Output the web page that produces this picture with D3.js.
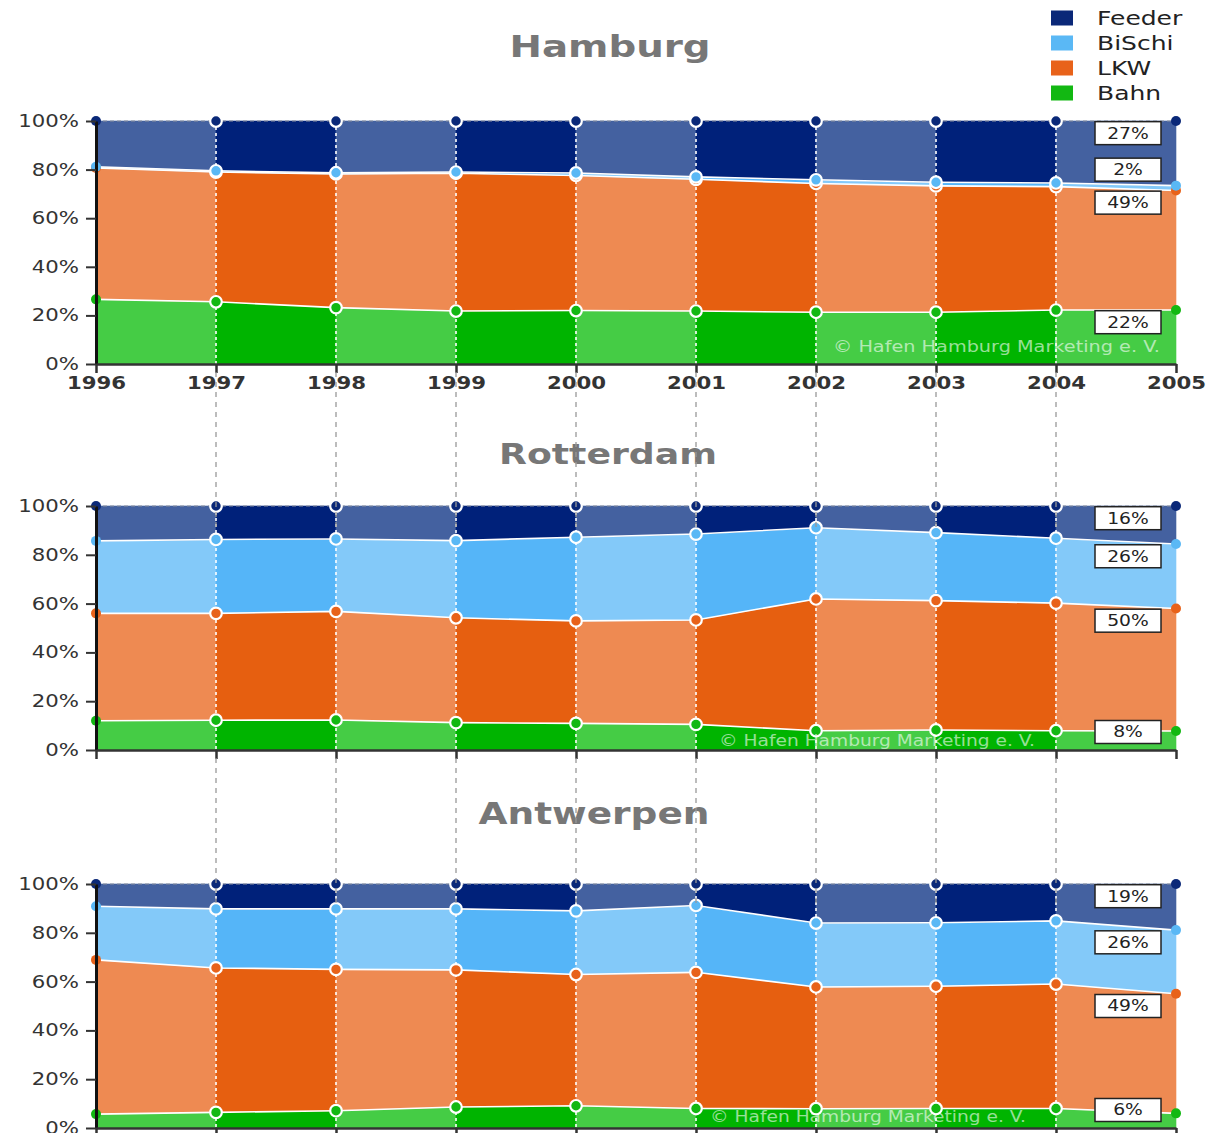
<!DOCTYPE html>
<html>
<head>
<meta charset="utf-8">
<script src="https://cdn.jsdelivr.net/npm/d3@7"></script>
<style>
body { margin: 0; background: #fff; }
text { font-family: "DejaVu Sans", Verdana, sans-serif; }
</style>
</head>
<body>
<div id="vizArea"></div>
<script>
// data: share of hinterland traffic per mode, in percent
var years = [1996, 1997, 1998, 1999, 2000, 2001, 2002, 2003, 2004, 2005];
var modes = ["Bahn", "LKW", "BiSchi", "Feeder"];
var legendModes = ["Feeder", "BiSchi", "LKW", "Bahn"];
var yTicks = [0, 20, 40, 60, 80, 100];

var hamburgBahn   = [26.6, 25.6, 23.2, 21.8, 22.0, 21.8, 21.3, 21.3, 22.2, 22.2];
var hamburgLKW    = [54.1, 53.4, 55.0, 56.7, 55.6, 54.2, 53.0, 52.0, 50.8, 49.2];
var hamburgBiSchi = [0.5, 0.5, 0.5, 0.5, 1.0, 1.0, 1.5, 1.5, 1.5, 2.0];
var hamburgFeeder = [18.8, 20.5, 21.3, 21.0, 21.4, 23.0, 24.2, 25.2, 25.5, 26.6];

var rotterdamBahn   = [12.0, 12.2, 12.3, 11.2, 10.9, 10.5, 7.9, 8.2, 7.9, 7.8];
var rotterdamLKW    = [44.0, 43.8, 44.5, 43.0, 42.0, 42.8, 54.0, 53.0, 52.3, 50.2];
var rotterdamBiSchi = [29.7, 30.3, 29.7, 31.6, 34.3, 35.2, 29.2, 27.9, 26.6, 26.4];
var rotterdamFeeder = [14.3, 13.7, 13.5, 14.2, 12.8, 11.5, 8.9, 10.9, 13.2, 15.6];

var antwerpenBahn   = [5.7, 6.4, 7.1, 8.6, 9.1, 8.0, 7.9, 8.0, 8.0, 6.0];
var antwerpenLKW    = [63.2, 59.2, 57.9, 56.2, 53.8, 55.8, 49.9, 50.1, 51.0, 49.0];
var antwerpenBiSchi = [22.0, 24.2, 24.8, 25.0, 26.1, 27.4, 26.2, 26.0, 25.9, 26.1];
var antwerpenFeeder = [9.1, 10.2, 10.2, 10.2, 11.0, 8.8, 16.0, 15.9, 15.1, 18.9];

var colLight = { Feeder: "#4461a0", BiSchi: "#83c9f9", LKW: "#ee8a52", Bahn: "#45cc45" };
var colDark  = { Feeder: "#00217a", BiSchi: "#55b5f8", LKW: "#e65f10", Bahn: "#00b400" };
var colDot   = { Feeder: "#0a2878", BiSchi: "#5ab8f5", LKW: "#e8621a", Bahn: "#12b812" };

var SX = 1.25; // the picture has horizontally stretched lettering

var charts = [
  { name: "Hamburg", top: 121, bottom: 364, titleY: 57, titleX: 610, titleSize: 31, years: true,
    cols: [hamburgBahn, hamburgLKW, hamburgBiSchi, hamburgFeeder], copy: [833, 352, 327] },
  { name: "Rotterdam", top: 506, bottom: 750, titleY: 464, titleX: 608, titleSize: 29, years: false,
    cols: [rotterdamBahn, rotterdamLKW, rotterdamBiSchi, rotterdamFeeder], copy: [719, 746, 316] },
  { name: "Antwerpen", top: 884, bottom: 1128, titleY: 824, titleX: 594, titleSize: 30, years: false,
    cols: [antwerpenBahn, antwerpenLKW, antwerpenBiSchi, antwerpenFeeder], copy: [710, 1122, 316] }
];

var W = 1213, H = 1133;
var svg = d3.select("#vizArea").append("svg")
  .attr("width", W)
  .attr("height", H);

var x = d3.scaleLinear().domain([1996, 2005]).range([96, 1176]);

var lowerLayer = svg.append("g");
var connLayer = svg.append("g");

charts.forEach(function (c) {
  var g = lowerLayer.append("g");
  var y = d3.scaleLinear().domain([0, 100]).range([c.bottom, c.top]);

  var rows = years.map(function (yr, i) {
    var r = { year: yr };
    modes.forEach(function (m, k) { r[m] = c.cols[k][i]; });
    return r;
  });
  var stacked = d3.stack().keys(modes)(rows);

  // title
  g.append("text")
    .attr("transform", "translate(" + c.titleX + "," + c.titleY + ") scale(" + SX + ",1)")
    .attr("text-anchor", "middle")
    .attr("font-weight", "bold")
    .attr("font-size", c.titleSize)
    .attr("fill", "#777")
    .text(c.name);

  var area = d3.area()
    .x(function (d) { return x(d.data.year); })
    .y0(function (d) { return y(d[0]); })
    .y1(function (d) { return y(d[1]); });

  // alternating shaded segments
  stacked.forEach(function (layer) {
    for (var i = 0; i < years.length - 1; i++) {
      g.append("path")
        .attr("d", area(layer.slice(i, i + 2)))
        .attr("fill", i % 2 == 0 ? colLight[layer.key] : colDark[layer.key])
        .attr("stroke", i % 2 == 0 ? colLight[layer.key] : colDark[layer.key])
        .attr("stroke-width", 0.6);
    }
  });

  // white boundaries between layers
  var line = d3.line()
    .x(function (d) { return x(d.data.year); })
    .y(function (d) { return y(d[1]); });
  stacked.slice(0, 3).forEach(function (layer) {
    g.append("path")
      .attr("d", line(layer))
      .attr("fill", "none")
      .attr("stroke", "#fff")
      .attr("stroke-width", 1.6);
  });

  // dashed top edge
  g.append("line")
    .attr("x1", x(1996)).attr("x2", x(2005))
    .attr("y1", y(100)).attr("y2", y(100))
    .attr("stroke", "#8a8fa0").attr("stroke-width", 1.2)
    .attr("stroke-dasharray", "4,3");

  // white dotted year lines
  g.selectAll(".vline").data(years.slice(1, -1)).enter().append("line")
    .attr("x1", function (d) { return x(d); })
    .attr("x2", function (d) { return x(d); })
    .attr("y1", y(100)).attr("y2", y(0))
    .attr("stroke", "rgba(255,255,255,0.8)")
    .attr("stroke-width", 2)
    .attr("stroke-dasharray", "3,3");

  // points
  stacked.forEach(function (layer) {
    g.selectAll(".dot-" + layer.key).data(layer).enter().append("circle")
      .attr("cx", function (d) { return x(d.data.year); })
      .attr("cy", function (d) { return y(d[1]); })
      .attr("r", function (d, i) { return (i == 0 || i == years.length - 1) ? 5 : 5.8; })
      .attr("fill", colDot[layer.key])
      .attr("stroke", function (d, i) { return (i == 0 || i == years.length - 1) ? "none" : "#fff"; })
      .attr("stroke-width", 2.2);
  });

  // copyright
  g.append("text")
    .attr("x", c.copy[0]).attr("y", c.copy[1])
    .attr("textLength", c.copy[2])
    .attr("lengthAdjust", "spacingAndGlyphs")
    .attr("font-size", 15)
    .attr("fill", "rgba(255,255,255,0.6)")
    .text("\u00a9 Hafen Hamburg Marketing e. V.");

  // value boxes for 2005
  var last = years.length - 1;
  var prev = null;
  stacked.forEach(function (layer) {
    var top = layer[last][1];
    var py = y(top - 5);
    if (prev == null) py = Math.min(py, c.bottom - 18);
    else py = Math.min(py, prev - 33);
    prev = py;
    var v = layer[last][1] - layer[last][0];
    var bx = g.append("g").attr("transform", "translate(1128," + py + ")");
    bx.append("rect")
      .attr("x", -33).attr("y", -11.5)
      .attr("width", 66).attr("height", 23)
      .attr("fill", "#fff")
      .attr("stroke", "#222").attr("stroke-width", 1.5);
    bx.append("text")
      .attr("transform", "scale(" + SX + ",1)")
      .attr("text-anchor", "middle")
      .attr("dy", "0.36em")
      .attr("font-size", 15)
      .attr("fill", "#222")
      .text(Math.round(v) + "%");
  });

  // axes
  var yAxis = g.append("g")
    .attr("transform", "translate(" + x(1996) + ",0)")
    .call(d3.axisLeft(y).tickValues(yTicks).tickFormat(function (d) { return d + "%"; }).tickSize(10).tickSizeOuter(0));
  yAxis.select(".domain").attr("stroke", "#111").attr("stroke-width", 3);
  yAxis.selectAll(".tick line").attr("stroke", "#333").attr("stroke-width", 2);
  yAxis.selectAll(".tick text")
    .attr("x", -17 / SX)
    .attr("transform", "scale(" + SX + ",1)")
    .attr("font-size", 17)
    .attr("font-family", "DejaVu Sans")
    .attr("fill", "#333");

  var xAxis = g.append("g")
    .attr("transform", "translate(0," + y(0) + ")")
    .call(d3.axisBottom(x).tickValues(years)
      .tickFormat(c.years ? d3.format("d") : function () { return ""; })
      .tickSize(9).tickSizeOuter(0));
  xAxis.select(".domain").attr("stroke", "#333").attr("stroke-width", 2.5);
  xAxis.selectAll(".tick line").attr("stroke", "#333").attr("stroke-width", 2.5);
  xAxis.selectAll(".tick text")
    .attr("x", 0).attr("y", 25).attr("dy", 0)
    .attr("transform", "scale(" + SX + ",1)")
    .attr("font-size", 17)
    .attr("font-weight", "bold")
    .attr("font-family", "DejaVu Sans")
    .attr("fill", "#333");
});

// grey dashed connectors between the three charts
var connYears = years.slice(1, -1);
[[372, charts[1].top + 22], [charts[1].bottom + 8, charts[2].top + 22]].forEach(function (seg) {
  connLayer.selectAll(null).data(connYears).enter().append("line")
    .attr("x1", function (d) { return x(d); })
    .attr("x2", function (d) { return x(d); })
    .attr("y1", seg[0]).attr("y2", seg[1])
    .attr("stroke", "#999")
    .attr("stroke-width", 1.3)
    .attr("stroke-dasharray", "5,5");
});

// legend
var legend = svg.append("g");
legendModes.forEach(function (m, i) {
  var ly = 18 + i * 25;
  legend.append("rect")
    .attr("x", 1051).attr("y", ly - 7.5)
    .attr("width", 22).attr("height", 15)
    .attr("fill", colDot[m]);
  legend.append("text")
    .attr("transform", "translate(1097," + ly + ") scale(" + SX + ",1)")
    .attr("dy", "0.36em")
    .attr("font-size", 20)
    .attr("fill", "#222")
    .text(m);
});
</script>
</body>
</html>
